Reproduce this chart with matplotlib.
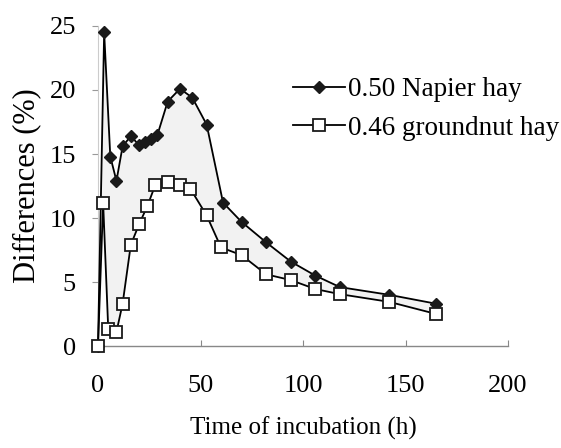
import matplotlib
matplotlib.use("Agg")
import matplotlib.pyplot as plt
import numpy as np

# Data
napier_t = [0, 3, 6, 9, 12, 16, 20, 23, 26, 29, 34, 40, 46, 53, 61, 70, 82, 94, 106, 118, 142, 165]
napier_v = [0, 24.5, 14.8, 12.9, 15.6, 16.4, 15.7, 15.9, 16.2, 16.5, 19.1, 20.1, 19.4, 17.3, 11.2, 9.7, 8.1, 6.6, 5.5, 4.6, 4.0, 3.3]

groundnut_t = [0, 2.5, 5, 9, 12, 16, 20, 24, 28, 34, 40, 45, 53, 60, 70, 82, 94, 106, 118, 142, 165]
groundnut_v = [0, 11.2, 1.3, 1.1, 3.3, 7.9, 9.5, 10.9, 12.6, 12.8, 12.6, 12.3, 10.2, 7.7, 7.1, 5.6, 5.15, 4.45, 4.05, 3.45, 2.5]

labels = ["0.50 Napier hay", "0.46 groundnut hay"]
xticks = [0, 50, 100, 150, 200]
yticks = [0, 5, 10, 15, 20, 25]

plt.rcParams['font.family'] = ['Liberation Serif', 'DejaVu Serif']

fig = plt.figure(figsize=(5.61, 4.48), dpi=100)
ax = fig.add_axes([98/561, 1-346/448, 410/561, 320/448])

# shaded region between curves
poly_x = np.concatenate([napier_t, groundnut_t[::-1]])
poly_y = np.concatenate([napier_v, groundnut_v[::-1]])
ax.fill(poly_x, poly_y, facecolor='#f2f2f2', edgecolor='none', zorder=1)

ax.plot(napier_t, napier_v, color='black', lw=1.3, marker='D', markersize=6,
        markerfacecolor='#1a1a1a', markeredgecolor='#1a1a1a', label=labels[0],
        clip_on=False, zorder=3)
ax.plot(groundnut_t, groundnut_v, color='black', lw=1.3, marker='s', markersize=9,
        markerfacecolor='white', markeredgecolor='#1a1a1a', markeredgewidth=1.3,
        label=labels[1], clip_on=False, zorder=4)

ax.set_xlim(0, 200)
ax.set_ylim(0, 25)
ax.set_xticks(xticks)
ax.set_yticks(yticks)

for s in ['top', 'right']:
    ax.spines[s].set_visible(False)
ax.spines['bottom'].set_color('#888888')
ax.spines['bottom'].set_linewidth(1.0)
ax.spines['left'].set_color('#cccccc')
ax.spines['left'].set_linewidth(0.8)

ax.tick_params(axis='x', direction='in', length=4, color='#888888', pad=21, labelsize=19)
ax.tick_params(axis='y', direction='out', length=4, color='#999999', pad=12, labelsize=19)

ax.set_xlabel("Time of incubation (h)", fontsize=18, labelpad=14)
ax.set_ylabel("Differences (%)", fontsize=22, labelpad=6)

leg = ax.legend(loc='upper left', bbox_to_anchor=(0.476, 0.84), frameon=False,
                fontsize=19.5, handlelength=1.9, handletextpad=0.12, labelspacing=0.5,
                borderaxespad=0, borderpad=0)

fig.savefig("out.png", dpi=100)
